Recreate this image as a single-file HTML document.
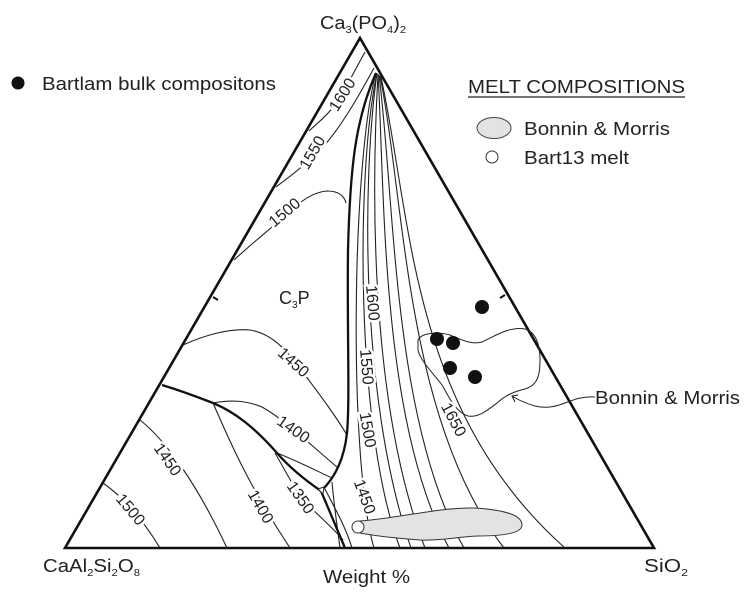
<!DOCTYPE html>
<html><head><meta charset="utf-8"><style>
html,body{margin:0;padding:0;background:#fff;}
svg{display:block;font-family:"Liberation Sans",Arial,sans-serif;}
.t{stroke:#222;stroke-width:1.1;fill:none;}
.k{stroke:#111;stroke-width:2.3;fill:none;}
.lb{font-size:16px;fill:#222;stroke:#fff;stroke-width:5px;paint-order:stroke;text-anchor:middle;dominant-baseline:central;}
.tx{font-size:18px;fill:#222;}
</style></head><body>
<svg width="750" height="592" viewBox="0 0 750 592" xmlns="http://www.w3.org/2000/svg">
<!-- legend -->
<circle cx="18" cy="83" r="6.5" fill="#111"/>
<text class="tx" x="42" y="90" textLength="234" lengthAdjust="spacingAndGlyphs">Bartlam bulk compositons</text>
<text class="tx" x="468" y="93" textLength="217" lengthAdjust="spacingAndGlyphs">MELT COMPOSITIONS</text>
<line x1="468" y1="97" x2="685" y2="97" stroke="#222" stroke-width="1.3"/>
<ellipse cx="494" cy="128" rx="17" ry="10.5" fill="#e3e3e3" stroke="#444" stroke-width="1"/>
<text class="tx" x="524" y="135" textLength="146" lengthAdjust="spacingAndGlyphs">Bonnin &amp; Morris</text>
<circle cx="492" cy="157" r="6" fill="#fff" stroke="#333" stroke-width="1"/>
<text class="tx" x="524" y="164" textLength="105" lengthAdjust="spacingAndGlyphs">Bart13 melt</text>

<!-- vertex labels -->
<text class="tx" x="320" y="29" textLength="86" lengthAdjust="spacingAndGlyphs">Ca<tspan font-size="10" dy="4">3</tspan><tspan dy="-4">(PO</tspan><tspan font-size="10" dy="4">4</tspan><tspan dy="-4">)</tspan><tspan font-size="10" dy="4">2</tspan></text>
<text class="tx" x="43" y="572" textLength="97" lengthAdjust="spacingAndGlyphs">CaAl<tspan font-size="10" dy="4">2</tspan><tspan dy="-4">Si</tspan><tspan font-size="10" dy="4">2</tspan><tspan dy="-4">O</tspan><tspan font-size="10" dy="4">8</tspan></text>
<text class="tx" x="323" y="583" textLength="87" lengthAdjust="spacingAndGlyphs">Weight %</text>
<text class="tx" x="644" y="572" textLength="44" lengthAdjust="spacingAndGlyphs">SiO<tspan font-size="10" dy="4">2</tspan></text>
<text class="tx" x="279" y="304">C<tspan font-size="10" dy="4">3</tspan><tspan dy="-4">P</tspan></text>
<text class="tx" x="595" y="404" textLength="145" lengthAdjust="spacingAndGlyphs">Bonnin &amp; Morris</text>

<!-- contours left edge near apex -->
<path class="t" d="M365,52 C355,70 345,90 335,105 C325,118 315,125 309,131"/>
<path class="t" d="M374,68 C362,90 340,130 320,150 C300,170 285,180 276,187"/>
<path class="t" d="M346,203 C344,195 338,191 327,191 C315,192 305,198 295,207 C275,225 250,245 234,260"/>

<!-- right fan contours -->
<path class="t" d="M376,73 C352,160 348,460 374,548"/>
<path class="t" d="M377,73 C356,170 355,430 400,548"/>
<path class="t" d="M377,73 C362,180 360,400 411,548"/>
<path class="t" d="M378,74 C372,180 368,400 425,548"/>
<path class="t" d="M378,74 C385,190 380,420 449,548"/>
<path class="t" d="M379,75 C395,200 392,420 464,548"/>
<path class="t" d="M380,76 C405,200 405,420 504,548"/>
<path class="t" d="M381,77 C412,220 410,410 565,548"/>

<!-- C3P field contours -->
<path class="t" d="M183,345 C205,335 230,328 250,330 C275,334 290,355 305,375 C320,395 335,415 347,435"/>
<path class="t" d="M213,403 C230,400 245,400 262,407 C285,420 305,440 337,467"/>
<path class="t" d="M277,453 C295,460 315,470 332,478"/>
<path class="t" d="M275,453 C285,470 295,490 305,502 C318,515 335,530 343,540"/>
<!-- lower left contours -->
<path class="t" d="M103,483 C120,495 140,515 160,548"/>
<path class="t" d="M140,420 C165,440 195,480 227,548"/>
<path class="t" d="M213,403 C225,430 245,480 290,548"/>
<path class="t" d="M332,482 C334,505 337,525 340,548"/>
<path class="t" d="M325,489 C333,505 345,525 352,548"/>

<!-- thick boundaries -->
<path class="k" d="M376,73 C355,120 350,170 348,250 C347,330 350,400 347,433 C344,460 335,478 321,491"/>
<path class="k" d="M162,385 C185,392 200,398 213,403 C235,412 255,428 277,453 C290,468 305,480 321,491 L345,548"/>
<path d="M318,489 L324,487 L323,494 Z" fill="#fff" stroke="#222" stroke-width="1"/>

<!-- triangle -->
<path d="M360,38 L65,548 L654,548 Z" fill="none" stroke="#111" stroke-width="2.6" stroke-linejoin="miter"/>
<line x1="213" y1="297" x2="218" y2="300" stroke="#111" stroke-width="2"/>
<line x1="505" y1="295" x2="500" y2="298" stroke="#111" stroke-width="2"/>

<!-- Bonnin & Morris field -->
<path d="M418,340 C422,332 440,332 450,335 C462,340 472,345 482,342 C495,336 510,326 525,329 C536,332 540,345 540,360 C540,375 538,385 525,389 C512,392 505,396 497,403 C488,410 478,418 468,416 C455,412 448,395 442,385 C432,372 420,360 418,350 Z" fill="none" stroke="#222" stroke-width="1"/>
<path d="M595,397 C570,395 560,412 535,406 C525,403 518,400 512,396" fill="none" stroke="#222" stroke-width="1"/>
<path d="M518,395 L512,396 L515,402" fill="none" stroke="#222" stroke-width="1"/>

<!-- dots -->
<circle cx="482" cy="307" r="7" fill="#111"/>
<circle cx="437" cy="339" r="7" fill="#111"/>
<circle cx="453" cy="343" r="7" fill="#111"/>
<circle cx="450" cy="368" r="7" fill="#111"/>
<circle cx="475" cy="377" r="7" fill="#111"/>

<!-- melt blob -->
<path d="M360,521 C400,518 440,507 475,508 C505,510 522,515 522,525 C522,534 500,536 478,536 C455,537 440,541 420,540 C395,538 375,536 360,533 Z" fill="#e3e3e3" stroke="#333" stroke-width="1"/>
<circle cx="358" cy="527" r="6" fill="#fff" stroke="#333" stroke-width="1"/>

<!-- contour labels -->
<text class="lb" transform="translate(343,95) rotate(-58)">1600</text>
<text class="lb" transform="translate(313,153) rotate(-60)">1550</text>
<text class="lb" transform="translate(285,213) rotate(-40)">1500</text>
<text class="lb" transform="translate(293,363) rotate(42)">1450</text>
<text class="lb" transform="translate(293,430) rotate(35)">1400</text>
<text class="lb" transform="translate(300,498) rotate(55)">1350</text>
<text class="lb" transform="translate(130,510) rotate(50)">1500</text>
<text class="lb" transform="translate(167,460) rotate(55)">1450</text>
<text class="lb" transform="translate(260,507) rotate(60)">1400</text>
<text class="lb" transform="translate(372,303) rotate(85)">1600</text>
<text class="lb" transform="translate(366,367) rotate(85)">1550</text>
<text class="lb" transform="translate(367,430) rotate(80)">1500</text>
<text class="lb" transform="translate(364,497) rotate(70)">1450</text>
<text class="lb" transform="translate(453,420) rotate(62)">1650</text>
</svg>
</body></html>
